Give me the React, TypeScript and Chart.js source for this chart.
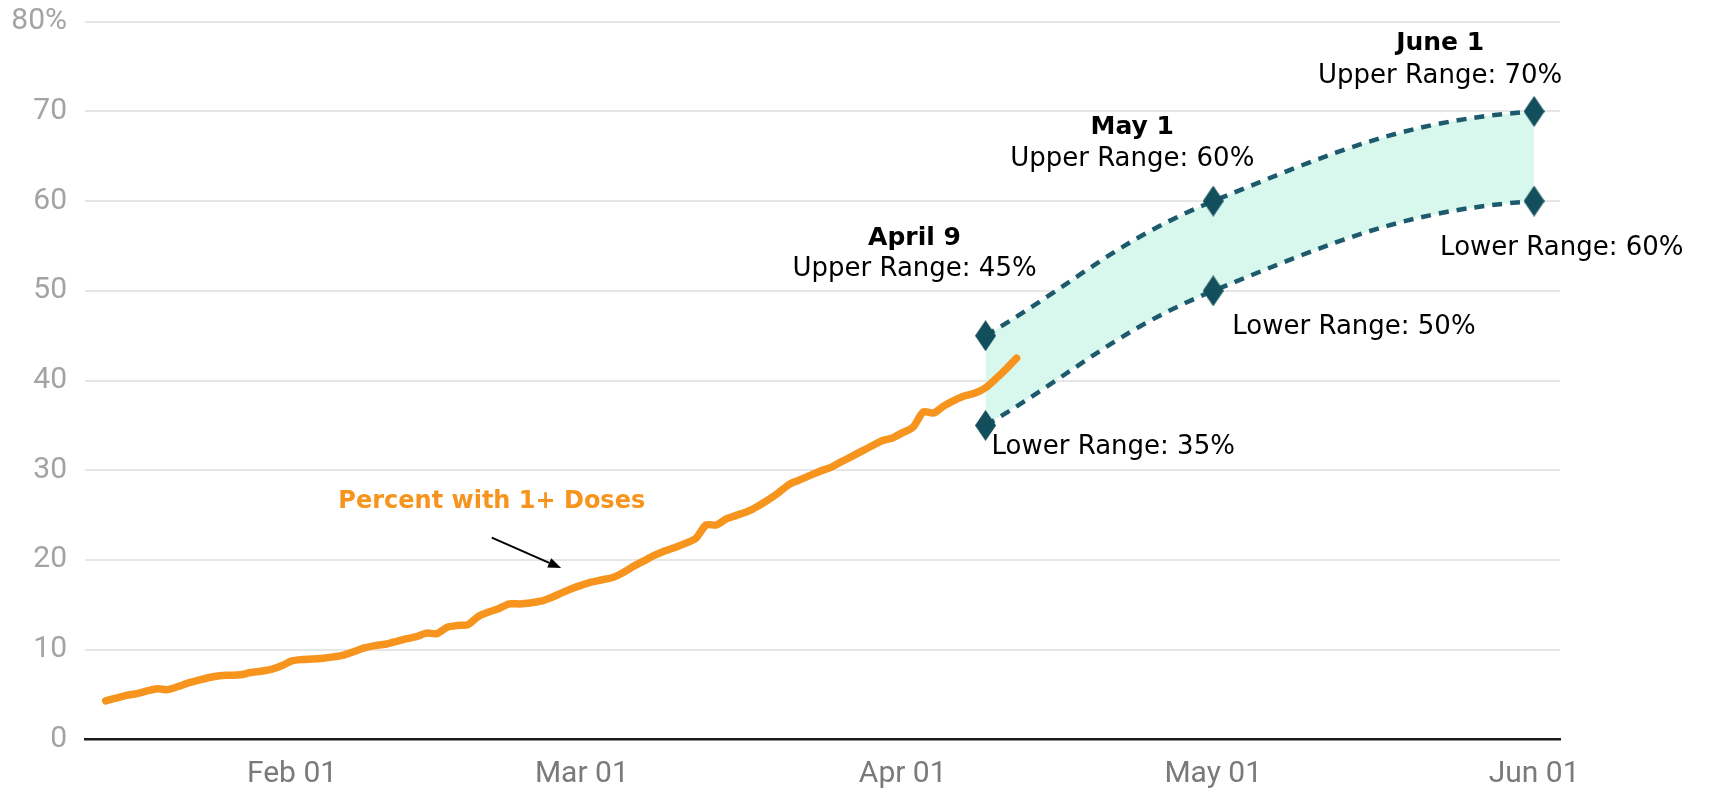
import React, { useEffect, useRef } from 'react';
import { Chart, registerables } from 'chart.js';

Chart.register(...registerables);

// ---------- data ----------
const YEAR_START = Date.UTC(2021, 0, 1);
const toDay = (s: string): number => {
  const [yy, mm, dd] = s.split('-').map(Number);
  return (Date.UTC(yy, mm - 1, dd) - YEAR_START) / 86400000;
};

const SERIES_LABEL = 'Percent with 1+ Doses';
const DOSE_START = '2021-01-14';
const DOSE_VALUES = [
  4.3, 4.6, 4.9, 5.1, 5.4, 5.65, 5.55, 5.9, 6.3, 6.6,
  6.9, 7.1, 7.15, 7.2, 7.45, 7.6, 7.8, 8.2, 8.75, 8.9,
  8.95, 9.05, 9.2, 9.4, 9.8, 10.2, 10.45, 10.6, 10.9, 11.2,
  11.45, 11.85, 11.8, 12.5, 12.7, 12.8, 13.7, 14.2, 14.6, 15.1,
  15.1, 15.2, 15.4, 15.8, 16.3, 16.8, 17.2, 17.55, 17.8, 18.05,
  18.6, 19.3, 19.9, 20.5, 21.0, 21.4, 21.85, 22.4, 23.9, 23.9,
  24.6, 25.0, 25.4, 26.0, 26.7, 27.5, 28.4, 28.9, 29.4, 29.9,
  30.3, 30.9, 31.5, 32.1, 32.7, 33.3, 33.6, 34.2, 34.8, 36.5,
  36.4, 37.2, 37.8, 38.3, 38.6, 39.2, 40.2, 41.3, 42.5,
];

const PROJ_DATES = ['2021-04-09', '2021-05-01', '2021-06-01'];
const PROJ_TITLES = ['April 9', 'May 1', 'June 1'];
const UPPER = [45, 60, 70];
const LOWER = [35, 50, 60];

const X_MIN_DATE = '2021-01-12';
const X_MAX_DATE = '2021-06-03';
const X_TICK_DATES = ['2021-02-01', '2021-03-01', '2021-04-01', '2021-05-01', '2021-06-01'];
const X_TICK_LABELS = ['Feb 01', 'Mar 01', 'Apr 01', 'May 01', 'Jun 01'];
const Y_TICKS = [0, 10, 20, 30, 40, 50, 60, 70, 80];
const Y_TICK_LABELS = ['0', '10', '20', '30', '40', '50', '60', '70', '80%'];

// series label + arrow anchors (data coordinates)
const LABEL_DATE = '2021-02-20';
const LABEL_VALUE = 26.5;
const ARROW_FROM_DATE = '2021-02-20';
const ARROW_FROM_VALUE = 22.5;
const ARROW_TO_DATE = '2021-02-27';
const ARROW_TO_VALUE = 19.1;

// ---------- styles / layout ----------
const ORANGE = '#F7941D';
const TEAL_LINE = '#1e5a6d';
const TEAL_MARK = '#134e5c';
const FILL = '#d9f8ed';
const TITLE_OFF = [[-71, -97], [-81, -74], [-94, -68]];
const UPPER_OFF = [[-71, -66], [-81, -42], [-94, -35]];
const LOWER_OFF = [[6, 22], [19, 36], [-94, 47]]; // left aligned

function makeDiamond(): HTMLCanvasElement {
  const c = document.createElement('canvas');
  const w = 21, h = 31;
  c.width = w;
  c.height = h;
  const g = c.getContext('2d')!;
  g.fillStyle = TEAL_MARK;
  g.beginPath();
  g.moveTo(w / 2, 0);
  g.lineTo(w, h / 2);
  g.lineTo(w / 2, h);
  g.lineTo(0, h / 2);
  g.closePath();
  g.fill();
  return c;
}

// flatten the arrival tangent of the projection curves (smooth easing toward June 1)
const curveShape = {
  id: 'curveShape',
  beforeDatasetsDraw(chart: any) {
    [1, 2].forEach((di) => {
      const meta = chart.getDatasetMeta(di);
      const line = meta.dataset;
      if (!line) return;
      line.updateControlPoints(chart.chartArea, 'x');
      const pts = meta.data;
      const n = pts.length;
      if (n < 2) return;
      const last = pts[n - 1];
      const prev = pts[n - 2];
      last.cp1x = last.x - 0.4 * (last.x - prev.x);
      last.cp1y = last.y + 0.1 * (prev.y - last.y);
    });
  },
};

const annotations = {
  id: 'annotations',
  afterDatasetsDraw(chart: any) {
    const { ctx } = chart;
    const xs = chart.scales.x;
    const ys = chart.scales.y;
    ctx.save();
    ctx.textBaseline = 'middle';
    PROJ_DATES.forEach((d, i) => {
      const px = xs.getPixelForValue(toDay(d));
      const pu = ys.getPixelForValue(UPPER[i]);
      const pl = ys.getPixelForValue(LOWER[i]);
      ctx.fillStyle = '#000';
      ctx.textAlign = 'center';
      ctx.font = 'bold 25px "DejaVu Sans"';
      ctx.fillText(PROJ_TITLES[i], px + TITLE_OFF[i][0], pu + TITLE_OFF[i][1]);
      ctx.font = '26px "DejaVu Sans"';
      ctx.fillText(`Upper Range: ${UPPER[i]}%`, px + UPPER_OFF[i][0], pu + UPPER_OFF[i][1]);
      ctx.textAlign = 'left';
      ctx.fillText(`Lower Range: ${LOWER[i]}%`, px + LOWER_OFF[i][0], pl + LOWER_OFF[i][1]);
    });
    // series label
    ctx.fillStyle = ORANGE;
    ctx.textAlign = 'center';
    ctx.font = 'bold 24px "DejaVu Sans"';
    ctx.fillText(
      SERIES_LABEL,
      xs.getPixelForValue(toDay(LABEL_DATE) + 0.3),
      ys.getPixelForValue(LABEL_VALUE)
    );
    // arrow
    const x1 = xs.getPixelForValue(toDay(ARROW_FROM_DATE) + 0.3);
    const y1 = ys.getPixelForValue(ARROW_FROM_VALUE);
    const x2 = xs.getPixelForValue(toDay(ARROW_TO_DATE));
    const y2 = ys.getPixelForValue(ARROW_TO_VALUE);
    const ang = Math.atan2(y2 - y1, x2 - x1);
    const headLen = 13, headW = 5;
    const bx = x2 - headLen * Math.cos(ang);
    const by = y2 - headLen * Math.sin(ang);
    ctx.strokeStyle = '#000';
    ctx.lineWidth = 2;
    ctx.beginPath();
    ctx.moveTo(x1, y1);
    ctx.lineTo(bx, by);
    ctx.stroke();
    ctx.fillStyle = '#000';
    ctx.beginPath();
    ctx.moveTo(x2, y2);
    ctx.lineTo(bx + headW * Math.sin(ang), by - headW * Math.cos(ang));
    ctx.lineTo(bx - headW * Math.sin(ang), by + headW * Math.cos(ang));
    ctx.closePath();
    ctx.fill();
    ctx.restore();
  },
};

export default function App() {
  const ref = useRef<HTMLCanvasElement | null>(null);

  useEffect(() => {
    if (!ref.current) return;
    const diamond = makeDiamond();
    const start = toDay(DOSE_START);
    const chart = new Chart(ref.current, {
      type: 'line',
      data: {
        datasets: [
          {
            label: SERIES_LABEL,
            data: DOSE_VALUES.map((v, i) => ({ x: start + i, y: v })),
            borderColor: ORANGE,
            borderWidth: 7.5,
            pointRadius: 0,
            tension: 0.25,
            borderCapStyle: 'round',
            borderJoinStyle: 'round',
            fill: false,
            order: 1,
          },
          {
            label: 'Upper Range',
            data: PROJ_DATES.map((d, i) => ({ x: toDay(d), y: UPPER[i] })),
            borderColor: TEAL_LINE,
            borderWidth: 4.5,
            borderDash: [10, 8],
            tension: 0.4,
            pointStyle: diamond as any,
            pointRadius: 10,
            fill: '+1',
            backgroundColor: FILL,
            order: 3,
          },
          {
            label: 'Lower Range',
            data: PROJ_DATES.map((d, i) => ({ x: toDay(d), y: LOWER[i] })),
            borderColor: TEAL_LINE,
            borderWidth: 4.5,
            borderDash: [10, 8],
            tension: 0.4,
            pointStyle: diamond as any,
            pointRadius: 10,
            fill: false,
            order: 2,
          },
        ] as any,
      },
      options: {
        responsive: false,
        animation: false,
        events: [],
        layout: { padding: { left: 0, top: 21.7, right: 150, bottom: 0 } },
        plugins: {
          legend: { display: false },
          tooltip: { enabled: false },
        },
        scales: {
          x: {
            type: 'linear',
            min: toDay(X_MIN_DATE),
            max: toDay(X_MAX_DATE) + 0.5,
            grid: { display: false, drawTicks: false },
            border: { display: true, color: '#1a1a1a', width: 2.5 },
            afterBuildTicks: (scale: any) => {
              scale.ticks = X_TICK_DATES.map((d) => ({ value: toDay(d) }));
            },
            afterFit: (scale: any) => {
              scale.height = 795 - 739.4;
              scale.paddingLeft = 0;
              scale.paddingRight = 0;
            },
            ticks: {
              autoSkip: false,
              maxRotation: 0,
              padding: 17,
              color: '#7a7a7a',
              font: { family: 'Roboto', size: 30 },
              callback: (v: any) => {
                const idx = X_TICK_DATES.findIndex((d) => toDay(d) === v);
                return idx >= 0 ? X_TICK_LABELS[idx] : '';
              },
            },
          },
          y: {
            type: 'linear',
            min: 0,
            max: 80,
            grid: { color: '#e6e6e6', lineWidth: 2, drawTicks: false },
            border: { display: false },
            afterBuildTicks: (scale: any) => {
              scale.ticks = Y_TICKS.map((v) => ({ value: v }));
            },
            afterFit: (scale: any) => {
              scale.width = 85;
              scale.paddingTop = 0;
              scale.paddingBottom = 0;
            },
            ticks: {
              padding: 18,
              color: '#a3a3a3',
              font: { family: 'Roboto', size: 30 },
              callback: (v: any) => {
                const idx = Y_TICKS.indexOf(v);
                return idx >= 0 ? Y_TICK_LABELS[idx] : '';
              },
            },
          },
        },
      },
      plugins: [curveShape, annotations],
    });
    return () => chart.destroy();
  }, []);

  return (
    <div style={{ position: 'absolute', left: 0, top: 0, width: 1710, height: 795, background: '#fff' }}>
      <canvas ref={ref} width={1710} height={795} style={{ display: 'block' }} />
    </div>
  );
}
